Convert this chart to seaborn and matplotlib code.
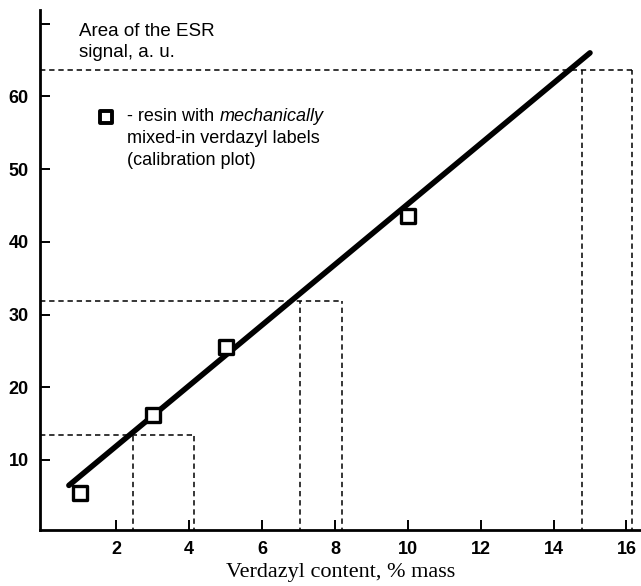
import matplotlib
matplotlib.use("Agg")
import matplotlib.pyplot as plt
import seaborn as sns
import pandas as pd

# measured calibration points
content = [1, 3, 5, 10]
esr_area = [5.5, 16.2, 25.6, 43.5]

# straight calibration line (end points)
fit_x = [0.7, 15.0]
fit_y = [6.5, 66.0]

# dashed read-off guides: signal level, line crossing, upper bound
guide_level = [13.5, 31.9, 63.7]
guide_left = [2.45, 7.03, 14.78]
guide_right = [4.12, 8.2, 16.15]

x_ticks = [2, 4, 6, 8, 10, 12, 14, 16]
y_ticks = [10, 20, 30, 40, 50, 60, 70]
y_labels = ["10", "20", "30", "40", "50", "60", ""]

sns.set_style("white")
plt.rcParams['font.family'] = ['Liberation Sans', 'DejaVu Sans']
plt.rcParams['text.color'] = 'black'
plt.rcParams['xtick.color'] = 'black'
plt.rcParams['ytick.color'] = 'black'
plt.rcParams['axes.labelcolor'] = 'black'

df = pd.DataFrame({"content": content, "area": esr_area})
fit = pd.DataFrame({"x": fit_x, "y": fit_y})

fig = plt.figure(figsize=(6.41, 5.86), dpi=100)
ax = fig.add_axes([0.062, 0.096, 0.938, 0.887])

# dashed guides
ax.hlines(guide_level, -0.1, guide_right, colors="black", linestyles=(0, (3.5, 2.5)), lw=1.1)
ax.vlines(guide_left, 0, guide_level, colors="black", linestyles=(0, (3.5, 2.5)), lw=1.1)
ax.vlines(guide_right, 0, guide_level, colors="black", linestyles=(0, (3.5, 2.5)), lw=1.1)

sns.lineplot(data=fit, x="x", y="y", color="black", lw=4, ax=ax)
sns.scatterplot(data=df, x="content", y="area", marker="s", s=110,
                facecolor="white", edgecolor="black", linewidth=2.4, ax=ax, zorder=5)

# in-plot legend
ax.scatter([1.73], [57.2], marker="s", s=80, facecolor="white", edgecolor="black", linewidth=2.8)
t1 = ax.text(2.3, 57.2, "- resin with ", fontsize=13, va="center", ha="left")
ax.annotate("mechanically", xy=(1, 0), xycoords=t1, fontsize=13, style="italic",
            va="bottom", ha="left")
ax.text(2.3, 54.2, "mixed-in verdazyl labels", fontsize=13, va="center", ha="left")
ax.text(2.3, 51.2, "(calibration plot)", fontsize=13, va="center", ha="left")

ax.text(0.99, 68.9, "Area of the ESR", fontsize=13.5, va="center", ha="left")
ax.text(0.99, 66.0, "signal, a. u.", fontsize=13.5, va="center", ha="left")

ax.set_xlim(-0.1, 16.4)
ax.set_ylim(0.4, 71.9)
ax.set_xticks(x_ticks)
ax.set_xticklabels([str(v) for v in x_ticks], fontsize=13, fontweight="bold")
ax.set_yticks(y_ticks)
ax.set_yticklabels(y_labels, fontsize=13, fontweight="bold")
ax.tick_params(direction="in", length=7, width=1.4, pad=8, bottom=True, left=True)

ax.set_xlabel("Verdazyl content, % mass", fontsize=16, family=["Liberation Serif", "DejaVu Serif"],
              labelpad=4)
ax.set_ylabel("")

sns.despine(ax=ax)
for s in ["left", "bottom"]:
    ax.spines[s].set_linewidth(2)
    ax.spines[s].set_color("black")

fig.savefig("out.png", dpi=100)
